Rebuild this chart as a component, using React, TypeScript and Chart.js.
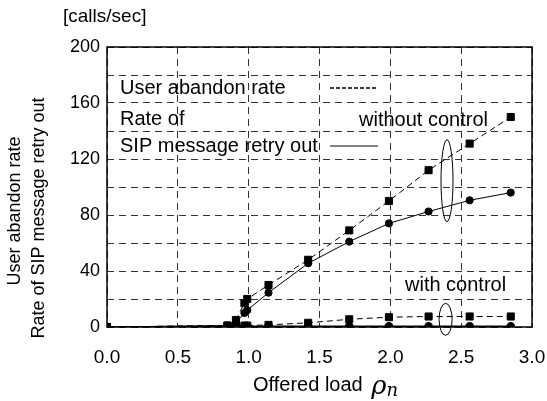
import React, { useEffect, useRef } from "react";
import { Chart, registerables } from "chart.js";

Chart.register(...registerables);

const offeredLoad = [0, 0.85, 0.91, 0.97, 0.99, 1.14, 1.42, 1.71, 1.99, 2.27, 2.56, 2.85];
const abandonWithout = [0, 1, 5, 17, 20, 30, 48, 69, 90, 112, 131, 150];
const retryWithout = [0, 1, 3, 10, 12, 24.5, 45.5, 61, 74, 82.5, 90.5, 96];
const abandonWith = [0, 1, 1, 1, 1, 1.5, 3, 5.5, 7, 7.5, 7.5, 7.5];
const retryWith = [0, 0.5, 0.5, 0.5, 0.5, 0.5, 0.5, 0.5, 0.5, 0.5, 0.5, 0.5];

const yTitleLines = ["User abandon rate", "Rate of SIP message retry out"];
const unitLabel = "[calls/sec]";
const legendAbandon = "User abandon rate";
const legendRetry1 = "Rate of";
const legendRetry2 = "SIP message retry out";
const labelWithout = "without control";
const labelWith = "with control";
const xTitle = "Offered load";

const SANS = '"Liberation Sans", Arial, Helvetica, sans-serif';

const pts = (ys: number[]) => offeredLoad.map((x, i) => ({ x, y: ys[i] }));

export default function App() {
  const ref = useRef<HTMLCanvasElement | null>(null);

  useEffect(() => {
    if (!ref.current) return;

    const deco = {
      id: "deco",
      beforeDraw(chart: any) {
        const ctx = chart.ctx;
        ctx.save();
        ctx.fillStyle = "#fff";
        ctx.fillRect(0, 0, chart.width, chart.height);
        ctx.restore();
      },
      afterDraw(chart: any) {
        const ctx = chart.ctx;
        const a = chart.chartArea;
        const xs = chart.scales.x;
        const ys = chart.scales.y;
        ctx.save();
        // frame
        ctx.strokeStyle = "#000";
        ctx.lineWidth = 1.5;
        ctx.setLineDash([]);
        ctx.strokeRect(a.left, a.top, a.right - a.left, a.bottom - a.top);

        ctx.fillStyle = "#000";
        ctx.textBaseline = "middle";
        ctx.textAlign = "left";
        ctx.font = `20px ${SANS}`;
        // legend text
        ctx.fillText(legendAbandon, a.left + 13, a.top + 41);
        ctx.fillText(legendRetry1, a.left + 13, a.top + 72);
        ctx.fillText(legendRetry2, a.left + 13, a.top + 99);
        // legend samples
        ctx.lineWidth = 1.6;
        ctx.setLineDash([4, 2]);
        ctx.beginPath();
        ctx.moveTo(a.left + 223, a.top + 41);
        ctx.lineTo(a.left + 271, a.top + 41);
        ctx.stroke();
        ctx.setLineDash([]);
        ctx.lineWidth = 1;
        ctx.beginPath();
        ctx.moveTo(a.left + 223, a.top + 99);
        ctx.lineTo(a.left + 271, a.top + 99);
        ctx.stroke();

        // annotations
        ctx.fillText(labelWithout, a.left + 252, a.top + 73);
        ctx.fillText(labelWith, a.left + 298, a.top + 238);

        // ellipses
        ctx.lineWidth = 1;
        ctx.beginPath();
        ctx.ellipse(xs.getPixelForValue(2.4), ys.getPixelForValue(104.5), 6, 41, 0, 0, Math.PI * 2);
        ctx.stroke();
        ctx.beginPath();
        ctx.ellipse(xs.getPixelForValue(2.39), ys.getPixelForValue(5.5), 6.5, 16, 0, 0, Math.PI * 2);
        ctx.stroke();

        // unit label
        ctx.font = `19px ${SANS}`;
        ctx.fillText(unitLabel, 63, 17);

        // y title
        ctx.font = `18px ${SANS}`;
        ctx.textAlign = "center";
        const centers = [[15, 211], [39, 218]];
        yTitleLines.forEach((t, i) => {
          ctx.save();
          ctx.translate(centers[i][0], centers[i][1]);
          ctx.rotate(-Math.PI / 2);
          ctx.fillText(t, 0, 0);
          ctx.restore();
        });

        // x title with math rho_n
        ctx.textAlign = "left";
        ctx.font = `20px ${SANS}`;
        const xt = 253;
        const yt = 385;
        ctx.fillText(xTitle, xt, yt);
        const w = ctx.measureText(xTitle + " ").width;
        ctx.font = `italic 26px "DejaVu Serif", "Liberation Serif", serif`;
        ctx.fillText("ρ", xt + w + 3, yt + 2);
        const wr = ctx.measureText("ρ").width;
        ctx.font = `italic 18px "DejaVu Serif", "Liberation Serif", serif`;
        ctx.fillText("n", xt + w + 3 + wr, yt + 6);
        ctx.restore();
      },
    };

    const chart = new Chart(ref.current, {
      type: "line",
      data: {
        datasets: [
          {
            data: pts(abandonWithout),
            borderColor: "#000",
            backgroundColor: "#000",
            borderWidth: 1,
            borderDash: [6, 4],
            pointStyle: "rect",
            pointRadius: 5,
          },
          {
            data: pts(retryWithout),
            borderColor: "#000",
            backgroundColor: "#000",
            borderWidth: 1,
            pointStyle: "circle",
            pointRadius: 3.6,
          },
          {
            data: pts(abandonWith),
            borderColor: "#000",
            backgroundColor: "#000",
            borderWidth: 1,
            borderDash: [6, 4],
            pointStyle: "rect",
            pointRadius: 5,
          },
          {
            data: pts(retryWith),
            borderColor: "#000",
            backgroundColor: "#000",
            borderWidth: 1.5,
            pointStyle: "circle",
            pointRadius: 3.6,
          },
        ],
      },
      options: {
        responsive: false,
        animation: false,
        events: [],
        layout: { padding: { left: 0, right: 15, top: 47, bottom: 0 } },
        plugins: { legend: { display: false }, tooltip: { enabled: false } },
        scales: {
          x: {
            type: "linear",
            min: 0,
            max: 3,
            afterFit: (s: any) => {
              s.height = 74;
              s.paddingLeft = 0;
              s.paddingRight = 0;
            },
            ticks: {
              stepSize: 0.5,
              color: "#000",
              font: { family: SANS, size: 19 },
              padding: 19,
              maxRotation: 0,
              callback: (v: any) => Number(v).toFixed(1),
            },
            grid: { color: "#333", lineWidth: 1, drawTicks: false },
            border: { display: false, dash: [7, 5] },
          },
          y: {
            type: "linear",
            min: 0,
            max: 200,
            afterFit: (s: any) => {
              s.width = 107;
              s.paddingTop = 0;
              s.paddingBottom = 0;
            },
            ticks: {
              stepSize: 20,
              color: "#000",
              font: { family: SANS, size: 18 },
              padding: 7,
              callback: (v: any) => (Number(v) % 40 === 0 ? String(v) : ""),
            },
            grid: { color: "#333", lineWidth: 1, drawTicks: false },
            border: { display: false, dash: [7, 5] },
          },
        },
      },
      plugins: [deco],
    } as any);

    return () => chart.destroy();
  }, []);

  return (
    <div style={{ position: "fixed", left: 0, top: 0, width: 547, height: 401 }}>
      <canvas ref={ref} width={547} height={401} />
    </div>
  );
}
